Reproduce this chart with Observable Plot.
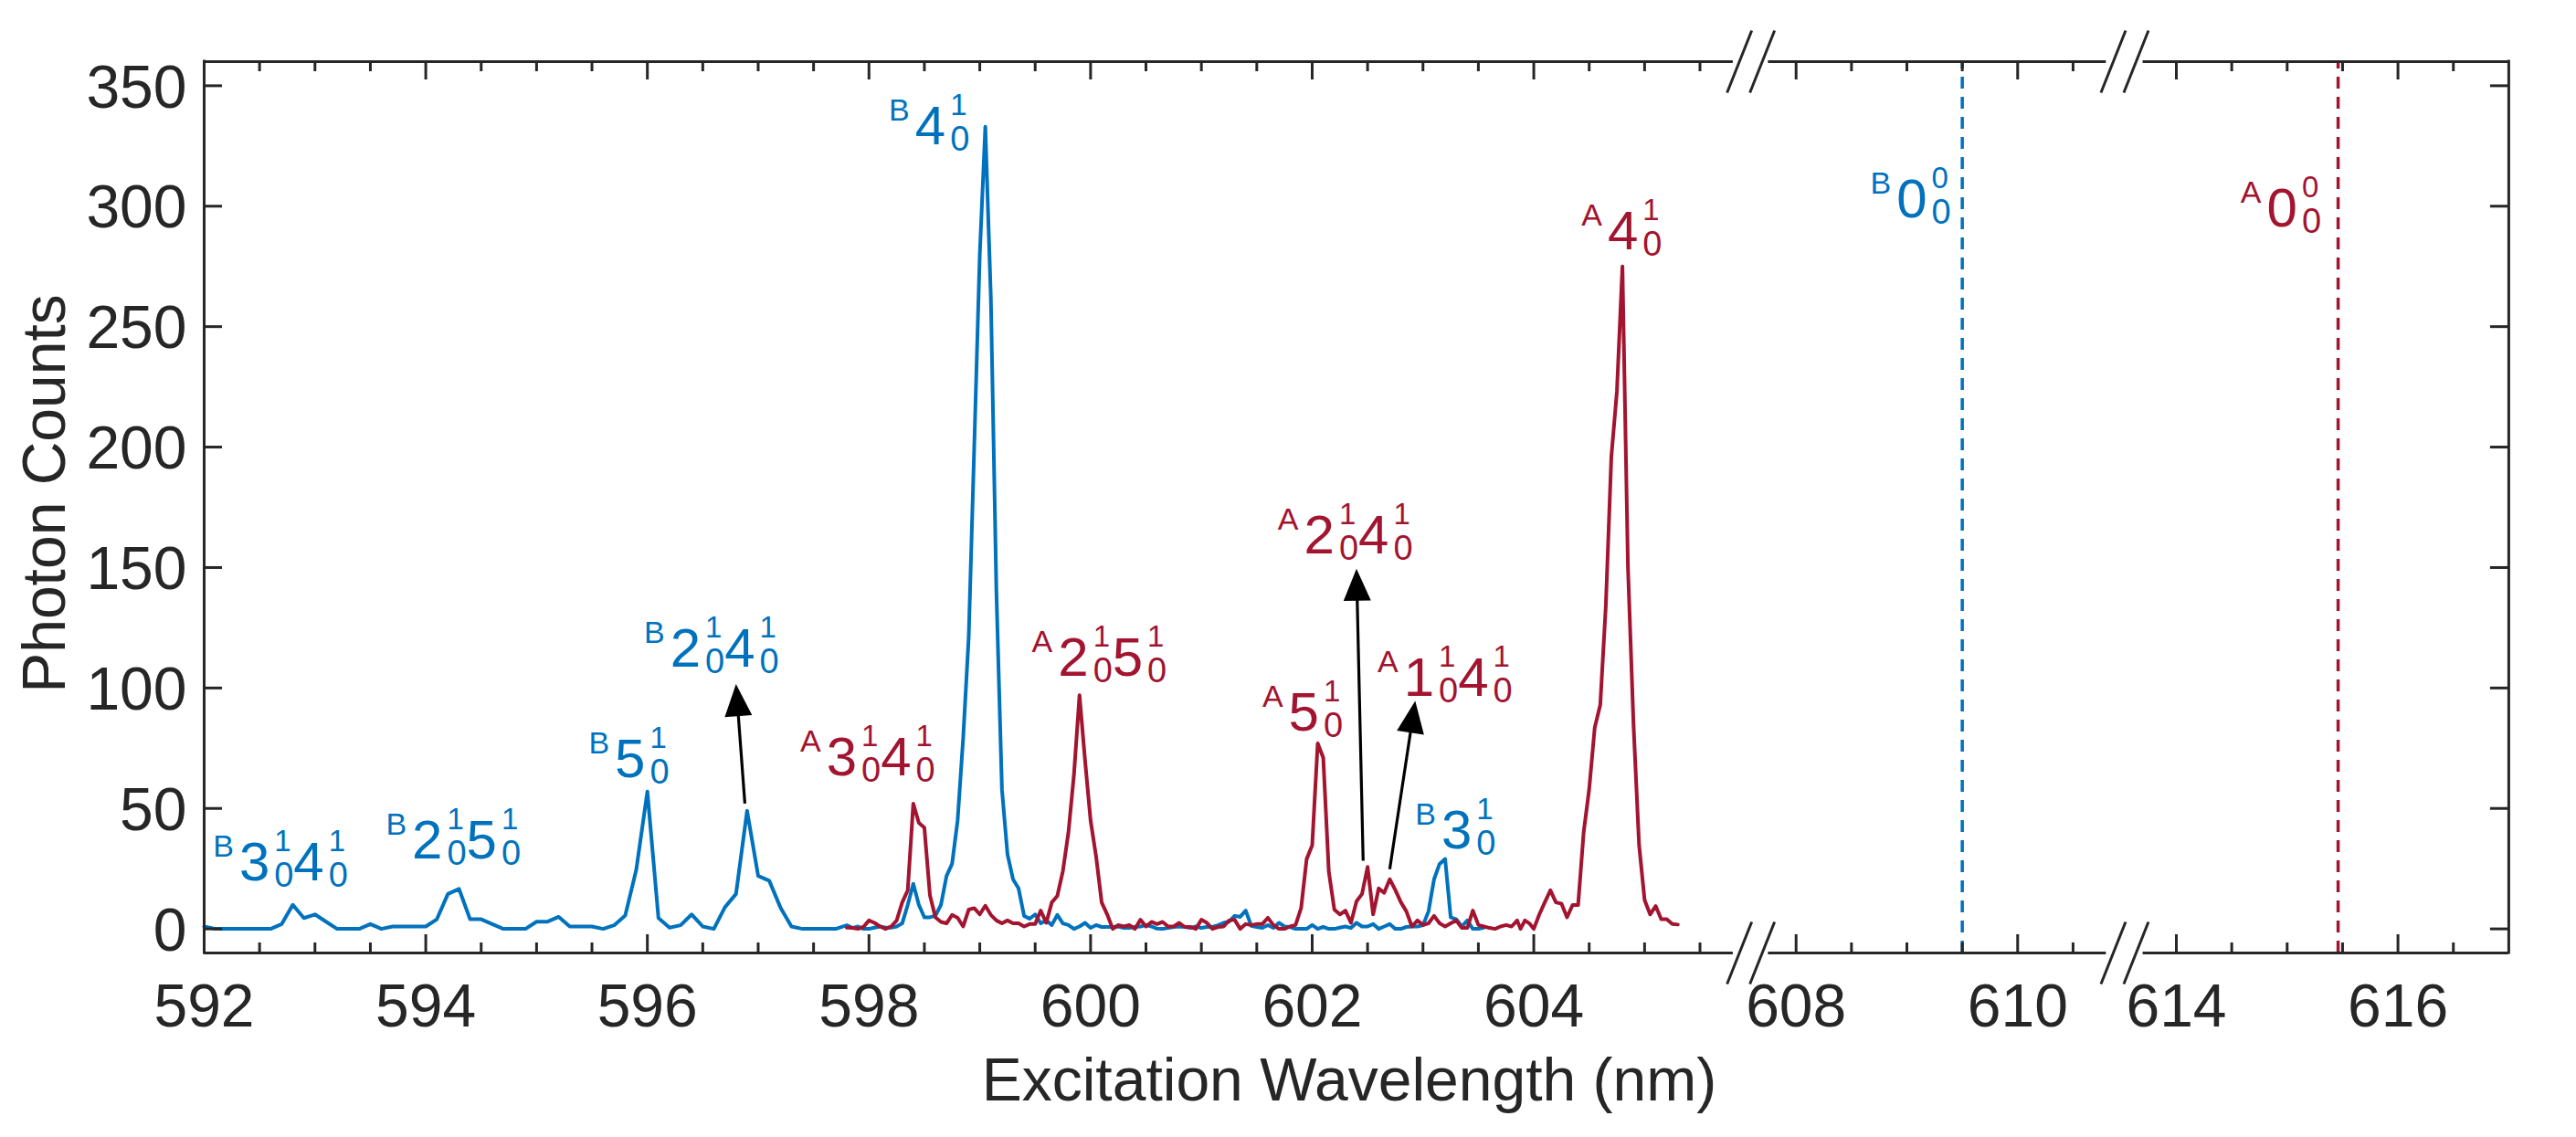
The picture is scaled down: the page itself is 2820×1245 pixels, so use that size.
<!DOCTYPE html>
<html>
<head>
<meta charset="utf-8">
<script src="https://cdn.jsdelivr.net/npm/d3@7"></script>
<script src="https://cdn.jsdelivr.net/npm/@observablehq/plot@0.6"></script>
<style>
  html, body { margin: 0; padding: 0; background: #fff; }
  #chart svg { display: block; }
</style>
</head>
<body>
<div id="chart"></div>
<script>
// ---------------- DATA ----------------
// Series B (blue): coarse scan then fine scan
const blueNm = [
  592.0,592.1,592.2,592.3,592.4,592.5,592.6,592.7,592.8,592.9,
  593.0,593.1,593.2,593.3,593.4,593.5,593.6,593.7,593.8,593.9,
  594.0,594.1,594.2,594.3,594.4,594.5,594.6,594.7,594.8,594.9,
  595.0,595.1,595.2,595.3,595.4,595.5,595.6,595.7,595.8,595.9,
  596.0,596.1,596.2,596.3,596.4,596.5,596.6,596.7,596.8,596.9,
  597.0,597.1,597.2,597.3,597.4,597.5,597.6,597.7,597.8,
  597.85,597.9,597.95,598.0,598.05,598.1,598.15,598.2,598.25,598.3,
  598.35,598.4,598.45,598.5,598.55,598.6,598.65,598.7,598.75,598.8,
  598.85,598.9,598.95,599.0,599.05,599.1,599.15,599.2,599.25,599.3,
  599.35,599.4,599.45,599.5,599.55,599.6,599.65,599.7,599.75,599.8,
  599.85,599.9,599.95,600.0,600.05,600.1,600.15,600.2,600.25,600.3,
  600.35,600.4,600.45,600.5,600.55,600.6,600.65,600.7,600.75,600.8,
  600.85,600.9,600.95,601.0,601.05,601.1,601.15,601.2,601.25,601.3,
  601.35,601.4,601.45,601.5,601.55,601.6,601.65,601.7,601.75,601.8,
  601.85,601.9,601.95,602.0,602.05,602.1,602.15,602.2,602.25,602.3,
  602.35,602.4,602.45,602.5,602.55,602.6,602.65,602.7,602.75,602.8,
  602.85,602.9,602.95,603.0,603.05,603.1,603.15,603.2,603.25,603.3,
  603.35,603.4,603.45,603.5,603.55
];
const blueCounts = [
  1,0,0,0,0,0,0,2,10,4.5,
  6,3,0,0,0,2,0,1,1,1,
  1,4,14.5,16.6,4,4,2,0,0,0,
  3,3,5,1,1,1,0,1.5,5.5,24.6,
  57,4.5,0.5,1.5,6,1,0,9,14.5,49,
  22,20,9,1,0,0,0,0,1.5,
  0.4,1,0,0,0.5,1,0.5,0.5,1,2.3,
  10,18.7,10,4.8,4.8,5.5,10,22,27,45,
  79,121,200,280,333,262,140,58,31,20.6,
  16.8,5.4,4.2,6,2.3,3.5,1.6,5.8,2.3,1.6,
  0,1,2.5,0.4,1.6,0.8,0.8,0.8,1,0.4,
  0.4,0.8,1,1.6,1,0.1,0,0.4,0.8,1,
  0.8,0.4,1,0.4,0.8,0.8,1.5,2.5,3,5.4,
  5,7.6,1.3,0.8,0.4,1.6,0.4,2.5,1,0.8,
  0,0,0,1.6,0,0.8,0,0,0.5,1,
  0.4,2.5,1,1,2,0,1,2,0,0,
  0.8,1,1,1.5,7.3,20.6,27,29,4.8,4,
  1,3.5,0,0,0.5
];
// Series A (red)
const redNm = [
  597.8,597.85,597.9,597.95,598.0,598.05,598.1,598.15,598.2,598.25,
  598.3,598.35,598.4,598.45,598.5,598.55,598.6,598.65,598.7,598.75,
  598.8,598.85,598.9,598.95,599.0,599.05,599.1,599.15,599.2,599.25,
  599.3,599.35,599.4,599.45,599.5,599.55,599.6,599.65,599.7,599.75,
  599.8,599.85,599.9,599.95,600.0,600.05,600.1,600.15,600.2,600.25,
  600.3,600.35,600.4,600.45,600.5,600.55,600.6,600.65,600.7,600.75,
  600.8,600.85,600.9,600.95,601.0,601.05,601.1,601.15,601.2,601.25,
  601.3,601.35,601.4,601.45,601.5,601.55,601.6,601.65,601.7,601.75,
  601.8,601.85,601.9,601.95,602.0,602.05,602.1,602.15,602.2,602.25,
  602.3,602.35,602.4,602.45,602.5,602.55,602.6,602.65,602.7,602.75,
  602.8,602.85,602.9,602.95,603.0,603.05,603.1,603.15,603.2,603.25,
  603.3,603.35,603.4,603.45,603.5,603.55,603.6,603.65,603.7,603.75,
  603.8,603.85,603.88,603.92,603.96,604.0,604.05,604.1,604.15,604.2,
  604.25,604.3,604.35,604.4,604.45,604.5,604.55,604.6,604.65,604.7,
  604.75,604.8,604.85,604.9,604.95,605.0,605.05,605.1,605.15,605.2,
  605.25,605.3
];
const redCounts = [
  0.5,0.4,0,0.8,3.5,2.5,1,0,1,3.5,
  11,16,52,44,42,14,4.8,2.9,2.3,5.8,
  4.6,1,8,8.6,6,9.6,5.8,3.5,2.3,3.5,
  2.3,2.3,1,2,2,7.6,2.5,11,13.7,24,
  40,64,97,70,45,30,11,6,0,1.6,
  1,1.6,0,3.8,1,2.9,2,2.9,1,1,
  2.5,0.8,0.8,0,3.8,2.5,0,0.8,1,3.5,
  3.8,0,2,1.6,2,2,4.6,1.6,0,0,
  1,1.6,8.6,29,34.6,77,71,23.8,8,6,
  7.6,2.5,11.4,14.5,25.7,6,16.8,15,20.6,16.2,
  11.1,7.3,1,3.5,1.6,2.3,5.4,2.3,1,2.3,
  3.5,0.4,0.4,7.6,1.6,1,0.4,0,1,1.6,
  1,3.5,0,3.5,2.3,0,6,11.1,16,11,
  10.5,4.8,9.9,9.9,40,58,83.5,93,134,196,
  223,275,150,85,35,12,6,9.5,4,4,
  2,1.8
];

// Origin (0-0 band) positions, dashed markers
const originNm = [609.5, 615.46];
const originSeries = ["B", "A"];

// Peak assignment labels
const labelSeries = ["B","B","B","B","A","B","A","A","A","A","B","A","B","A"];
const labelTerms  = ["3_0^1 4_0^1","2_0^1 5_0^1","5_0^1","2_0^1 4_0^1","3_0^1 4_0^1","4_0^1",
                     "2_0^1 5_0^1","5_0^1","2_0^1 4_0^1","1_0^1 4_0^1","3_0^1","4_0^1","0_0^0","0_0^0"];
const labelNm     = [592.08,593.64,595.47,595.97,597.38,598.18,599.47,601.55,601.69,602.59,602.93,604.43,608.67,614.58];
const labelCounts = [20.2,29.2,62.9,108.7,63.8,325.7,104.9,82.2,156,96.6,33.3,282.2,295.4,291.6];

// Arrows (tail -> tip)
const arrowTailNm     = [596.88, 602.46, 602.70];
const arrowTailCounts = [52, 28.3, 24.8];
const arrowTipNm      = [596.80, 602.40, 602.93];
const arrowTipCounts  = [101.6, 149.5, 94.6];

// Axis ticks
const xTickMajor = [592,594,596,598,600,602,604,608,610,614,616];
const xTickMinor = [592.5,593,593.5,594.5,595,595.5,596.5,597,597.5,598.5,599,599.5,
                    600.5,601,601.5,602.5,603,603.5,604.5,605,605.5,
                    608.5,609,609.5,610.5,614.5,615,615.5,616.5];
const yTicks = [0,50,100,150,200,250,300,350];
const xLabel = "Excitation Wavelength (nm)";
const yLabel = "Photon Counts";

// ---------------- LAYOUT / STYLE ----------------
const W = 2820, H = 1245;
const FONT = "'Liberation Sans', Arial, Helvetica, sans-serif";
const AXIS = "#262626";
const BLUE = "#0072BD";
const RED = "#A2142F";
const COLOR = {A: RED, B: BLUE};
const LINE_W = 4;

// Broken x axis: three segments joined by a piecewise-linear scale
const xDomain = [592, 605.8, 607.75, 610.8, 613.7, 617];
const xRange  = [223, 1896.9, 1935.4, 2305.3, 2345.6, 2745.9];
const yDomain = [-10, 360];
const yRange  = [1043, 67];
const frameW = xRange[5] - xRange[0];
const frameH = yRange[0] - yRange[1];
const segments = [[xDomain[0], xDomain[1]], [xDomain[2], xDomain[3]], [xDomain[4], xDomain[5]]];
const breakCenters = [(xDomain[1] + xDomain[2]) / 2, (xDomain[3] + xDomain[4]) / 2];
const breakMarks = breakCenters.flatMap(x => [{x, y: yDomain[0]}, {x, y: yDomain[1]}]);

const xs = d3.scaleLinear().domain(xDomain).range(xRange);
const ys = d3.scaleLinear().domain(yDomain).range(yRange);

const blueData = blueNm.map((x, i) => ({x, y: blueCounts[i]}));
const redData = redNm.map((x, i) => ({x, y: redCounts[i]}));

// custom symbols
const slashSymbol = {draw(ctx) {
  for (const o of [-12.5, 12.5]) { ctx.moveTo(o - 13.5, 34); ctx.lineTo(o + 13.5, -34); }
}};
const headSymbol = {draw(ctx) {
  ctx.moveTo(0, 0); ctx.lineTo(-15, 35); ctx.lineTo(15, 35); ctx.closePath();
}};

// arrow geometry (screen direction via the same mapping)
const arrows = arrowTailNm.map((_, i) => {
  const tx = xs(arrowTailNm[i]), ty = ys(arrowTailCounts[i]);
  const hx = xs(arrowTipNm[i]), hy = ys(arrowTipCounts[i]);
  const len = Math.hypot(hx - tx, hy - ty);
  const ux = (hx - tx) / len, uy = (hy - ty) / len;
  return {
    x1: arrowTailNm[i], y1: arrowTailCounts[i],
    x2: xs.invert(hx - ux * 30), y2: ys.invert(hy - uy * 30),
    tipX: arrowTipNm[i], tipY: arrowTipCounts[i],
    angle: Math.atan2(ux, -uy) * 180 / Math.PI
  };
});

// label pieces (prefix, main digits with stacked super/subscripts)
const PRE = 34, MAIN = 60, SUP = 33, SUB = 38;
const labelMarks = [];
labelNm.forEach((nm, i) => {
  const fill = COLOR[labelSeries[i]];
  const pieces = [{t: labelSeries[i], size: PRE, dx: 0, dy: -26}];
  let cur = 0.667 * PRE + 6;
  for (const term of labelTerms[i].split(" ")) {
    const m = term.match(/^(\d+)_(\d+)\^(\d+)$/);
    pieces.push({t: m[1], size: MAIN, dx: cur, dy: 0});
    const sx = cur + 0.556 * MAIN * m[1].length + 5;
    pieces.push({t: m[3], size: SUP, dx: sx, dy: -32});
    pieces.push({t: m[2], size: SUB, dx: sx, dy: 7});
    cur = sx + 0.556 * SUB;
  }
  for (const p of pieces) {
    labelMarks.push(Plot.text([i], {
      x: j => labelNm[j], y: j => labelCounts[j], text: () => p.t,
      fontSize: p.size, dx: p.dx, dy: p.dy, textAnchor: "start", lineAnchor: "bottom",
      fill, fontFamily: FONT
    }));
  }
});

const chart = Plot.plot({
  width: W, height: H,
  marginLeft: xRange[0], marginRight: W - xRange[5],
  marginTop: yRange[1], marginBottom: H - yRange[0],
  style: {fontFamily: FONT, background: "#fff", color: AXIS},
  x: {type: "linear", domain: xDomain, range: xRange, axis: null},
  y: {type: "linear", domain: yDomain, range: yRange, axis: null},
  marks: [
    // dashed origin markers
    ...originNm.map((nm, i) => Plot.ruleX([nm], {x: d => d, y1: () => yDomain[0], y2: () => yDomain[1],
      stroke: COLOR[originSeries[i]], strokeWidth: 3.5, strokeDasharray: "13,9"})),
    // spectra
    Plot.line(blueData, {x: "x", y: "y", stroke: BLUE, strokeWidth: LINE_W, strokeLinejoin: "round"}),
    Plot.line(redData, {x: "x", y: "y", stroke: RED, strokeWidth: LINE_W, strokeLinejoin: "round"}),
    // box (broken top/bottom)
    Plot.ruleY(segments, {y: () => yDomain[0], x1: s => s[0], x2: s => s[1], stroke: AXIS, strokeWidth: 3}),
    Plot.ruleY(segments, {y: () => yDomain[1], x1: s => s[0], x2: s => s[1], stroke: AXIS, strokeWidth: 3}),
    Plot.ruleX([xDomain[0], xDomain[5]], {x: d => d, stroke: AXIS, strokeWidth: 3, strokeLinecap: "square"}),
    // inward ticks
    Plot.ruleX(xTickMajor, {x: d => d, insetTop: frameH - 20, stroke: AXIS, strokeWidth: 3}),
    Plot.ruleX(xTickMajor, {x: d => d, insetBottom: frameH - 20, stroke: AXIS, strokeWidth: 3}),
    Plot.ruleX(xTickMinor, {x: d => d, insetTop: frameH - 11, stroke: AXIS, strokeWidth: 3}),
    Plot.ruleX(xTickMinor, {x: d => d, insetBottom: frameH - 11, stroke: AXIS, strokeWidth: 3}),
    Plot.ruleY(yTicks, {y: d => d, insetRight: frameW - 20, stroke: AXIS, strokeWidth: 3}),
    Plot.ruleY(yTicks, {y: d => d, insetLeft: frameW - 20, stroke: AXIS, strokeWidth: 3}),
    // axis break marks
    Plot.dot(breakMarks, {x: "x", y: "y", symbol: slashSymbol, r: 10, fill: "none", stroke: AXIS, strokeWidth: 3}),
    // tick labels
    Plot.text(xTickMajor, {x: d => d, frameAnchor: "bottom", text: d => String(d), dy: 80,
      lineAnchor: "bottom", textAnchor: "middle", fontSize: 66, fill: AXIS, fontFamily: FONT}),
    Plot.text(yTicks, {y: d => d, frameAnchor: "left", text: d => String(d), textAnchor: "end",
      dx: -19, dy: 2.5, lineAnchor: "middle", fontSize: 66, fill: AXIS, fontFamily: FONT}),
    // axis titles
    Plot.text([xLabel], {frameAnchor: "bottom", text: d => d, dx: -8, dy: 161, lineAnchor: "bottom",
      textAnchor: "middle", fontSize: 66, fill: AXIS, fontFamily: FONT}),
    Plot.text([yLabel], {frameAnchor: "left", text: d => d, rotate: -90, dx: -153, dy: -15,
      lineAnchor: "bottom", textAnchor: "middle", fontSize: 66, fill: AXIS, fontFamily: FONT}),
    // arrows
    Plot.link(arrows, {x1: "x1", y1: "y1", x2: "x2", y2: "y2", stroke: "#000", strokeWidth: 3.2}),
    Plot.dot(arrows, {x: "tipX", y: "tipY", symbol: headSymbol, r: 10, rotate: "angle", fill: "#000", stroke: "none"}),
    // peak labels
    ...labelMarks
  ]
});
document.getElementById("chart").appendChild(chart);
</script>
</body>
</html>
